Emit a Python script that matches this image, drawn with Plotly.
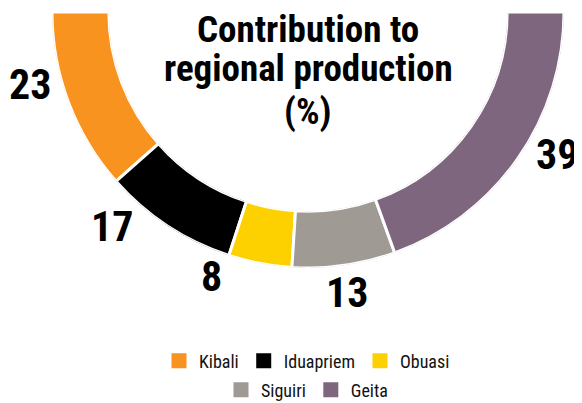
import numpy as np
import plotly.graph_objects as go

# ---- data ----
categories = ["Kibali", "Iduapriem", "Obuasi", "Siguiri", "Geita"]
shares = [23, 17, 8, 13, 39]
colors = ["#F7931E", "#000000", "#FDD000", "#A09A95", "#7D667E"]
legend_rows = ["legend", "legend", "legend", "legend2", "legend2"]
title_lines = ["Contribution to", "regional production", "(%)"]

# ---- layout helpers (pixels in page space; page body adds an 8px offset) ----
W, H = 574, 395
OFF = 8
label_px = [(30, 84), (112, 227), (211, 276), (347, 292), (557, 154)]
title_y_px = [29.5, 68.5, 111]
FONT = "Roboto Condensed, Roboto, sans-serif"


def px_x(x):
    return (x - OFF) / W


def px_y(y):
    return 1 - (y - OFF) / H


vals = np.array(shares, dtype=float)
span = 180.0 * vals / vals.sum()
start = 180.0 + np.concatenate([[0], np.cumsum(span)[:-1]])
theta = start + span / 2

fig = go.Figure()
fig.add_trace(go.Barpolar(
    r=[1] * len(shares), theta=theta, width=span,
    marker=dict(color=colors, line=dict(color="white", width=3)),
    showlegend=False, hoverinfo="skip",
))
for cat, col, lg in zip(categories, colors, legend_rows):
    fig.add_trace(go.Scatterpolar(
        r=[None], theta=[None], mode="markers", name=cat, legend=lg,
        marker=dict(symbol="square", size=15, color=col),
    ))

annotations = []
for line, ty in zip(title_lines, title_y_px):
    annotations.append(dict(
        text=line, x=px_x(308), y=min(px_y(ty), 1.0), xref="paper", yref="paper",
        xanchor="center", yanchor="middle", showarrow=False,
        font=dict(family=FONT, size=37, color="#000", weight="bold"),
    ))
for s, (px, py) in zip(shares, label_px):
    annotations.append(dict(
        text=str(s), x=px_x(px), y=px_y(py), xref="paper", yref="paper",
        xanchor="center", yanchor="middle", showarrow=False,
        font=dict(family=FONT, size=42, color="#000", weight="bold"),
    ))

leg_common = dict(orientation="h", x=px_x(307), xanchor="center", yanchor="middle",
                  font=dict(family=FONT, size=18, color="#111"),
                  bgcolor="rgba(0,0,0,0)", itemwidth=30)

fig.update_layout(
    width=W, height=H, margin=dict(l=0, r=0, t=0, b=0, autoexpand=False),
    paper_bgcolor="white", plot_bgcolor="white",
    polar=dict(
        domain=dict(x=[px_x(52), px_x(564)], y=[px_y(268), px_y(12)]),
        sector=[180, 360], hole=0.778, bgcolor="white",
        angularaxis=dict(visible=False, direction="counterclockwise", rotation=0),
        radialaxis=dict(visible=False, range=[0, 1]),
    ),
    legend=dict(y=px_y(361), **leg_common),
    legend2=dict(y=px_y(390), **leg_common),
    annotations=annotations,
)

fig.write_html("out.html")
